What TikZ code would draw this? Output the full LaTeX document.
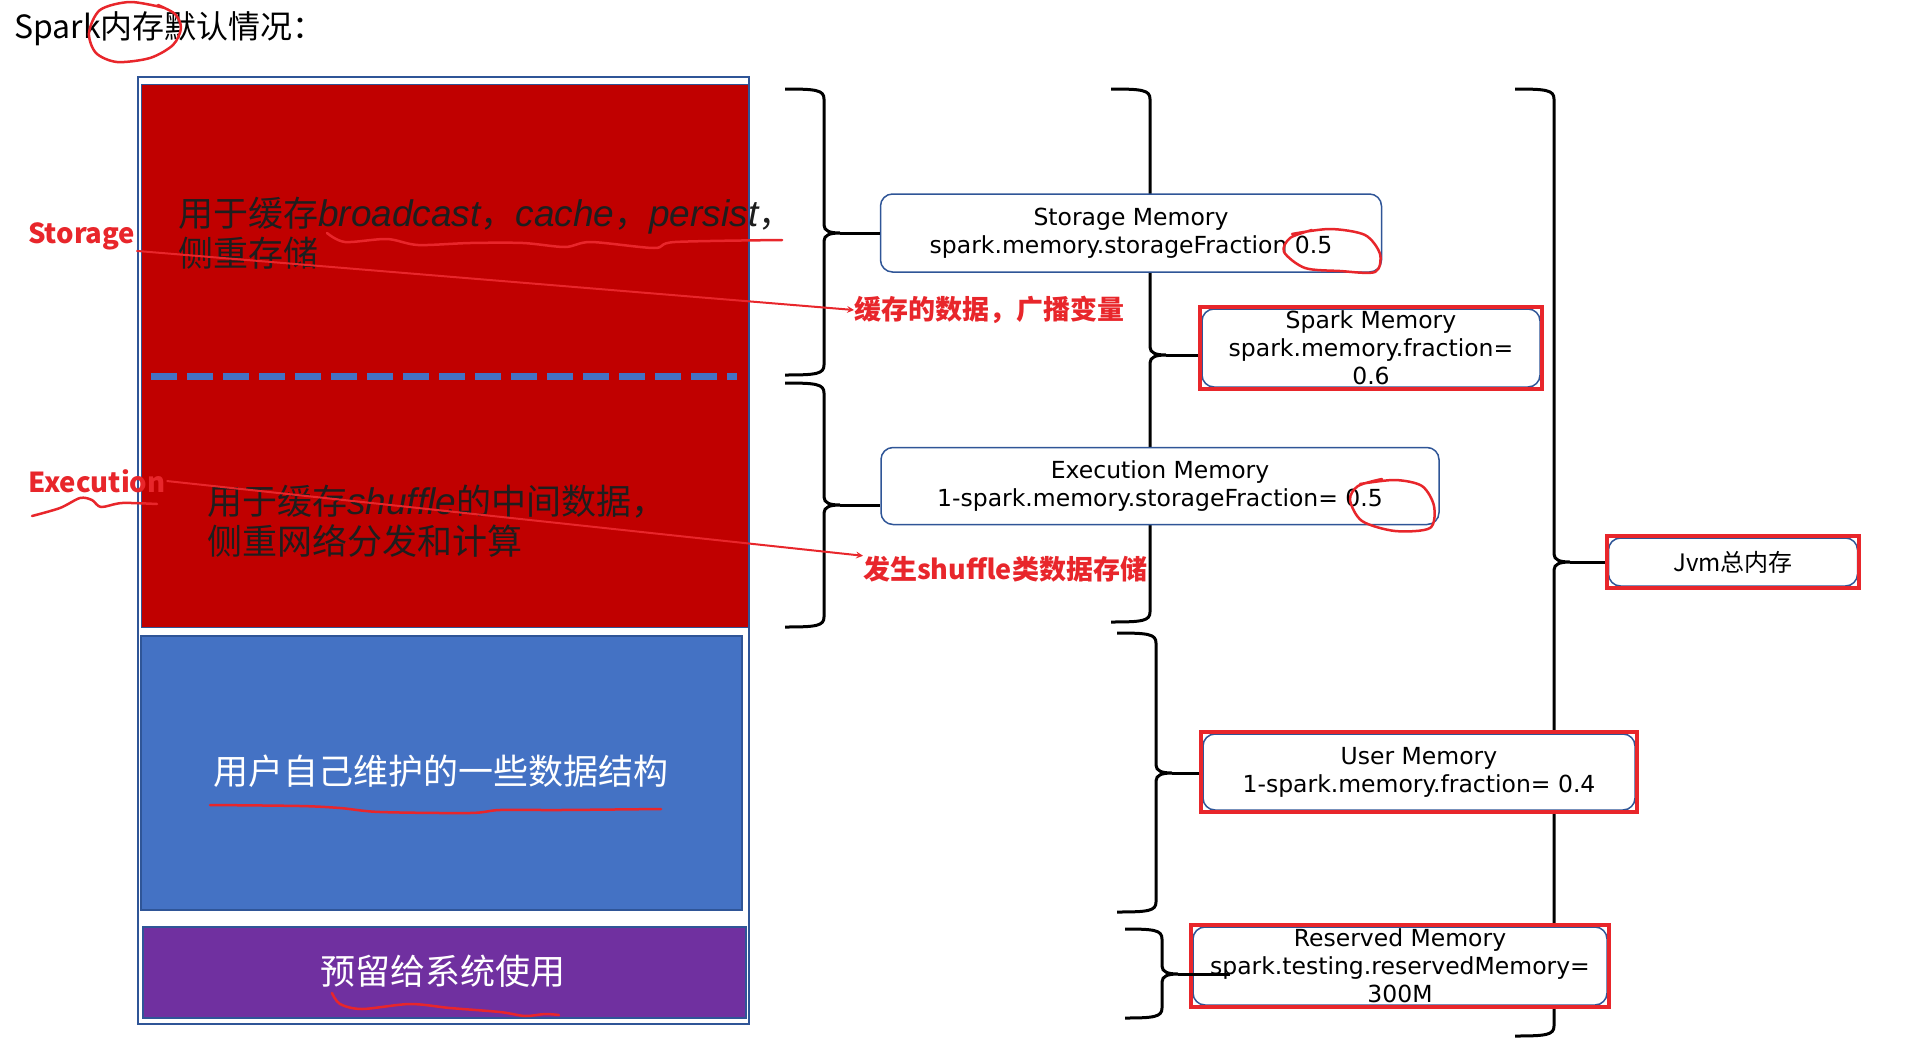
\documentclass[tikz,border=0pt]{standalone}
\usepackage{fontspec}
\setmainfont{Noto Sans CJK SC}
\newfontfamily\handfont{DejaVu Sans}
\newfontfamily\latinit{Liberation Sans}
\usetikzlibrary{fit}

\definecolor{sparkred}{HTML}{C00000}
\definecolor{userblue}{HTML}{4472C4}
\definecolor{edgeblue}{HTML}{2F5597}
\definecolor{sysviolet}{HTML}{7030A0}
\definecolor{inkred}{HTML}{E8262B}
\definecolor{darktext}{HTML}{1E1E1E}

% brace: tip name, end x, spine x, top y, tip y, bottom y
\newcommand{\membrace}[6]{%
  \draw[brace line] (#2,#4) .. controls (#3-8,#4) and (#3,#4+1) .. (#3,#4+10)
    -- (#3,#5-8) .. controls (#3,#5-2) and (#3+6,#5) .. (#3+16,#5) coordinate (#1)
    .. controls (#3+6,#5) and (#3,#5+2) .. (#3,#5+8)
    -- (#3,#6-10) .. controls (#3,#6-1) and (#3-8,#6) .. (#2,#6);}
\newcommand{\handit}[1]{{\latinit\itshape\fontsize{37}{40}\selectfont #1}}

\begin{document}
\begin{tikzpicture}[x=1pt,y=-1pt,
    brace line/.style={draw=black,line width=3},
    mem box/.style={draw=edgeblue,line width=1.5,rounded corners=12,fill=white,align=center,inner sep=0,font=\handfont\fontsize{23.5}{28}\selectfont},
    red frame/.style={draw=inkred,line width=4,inner sep=1},
    block text/.style={font=\fontsize{35}{40}\selectfont,inner sep=0},
    ink label/.style={text=inkred,font=\fontsize{27.5}{30}\selectfont\bfseries,inner sep=1},
    ink note/.style={text=inkred,font=\fontsize{27}{32}\selectfont\bfseries,inner sep=0},
    ink line/.style={draw=inkred,line width=2.5,line cap=round,line join=round},
    ink arrow/.style={draw=inkred,line width=2,->,>=stealth}]
\useasboundingbox (0,0) rectangle (1920,1039);

\node[anchor=west,inner sep=0,font=\fontsize{32}{38}\selectfont] (title) at (14,29) {Spark内存默认情况：};

% memory blocks
\draw[edgeblue,line width=2] (138,77) rectangle (749,1024);
\filldraw[fill=sparkred,draw=edgeblue,line width=1] (141,84) rectangle (748,627);
\draw[userblue,line width=7,dash pattern=on 26 off 10] (151,376) -- (737,376);
\filldraw[fill=userblue,draw=edgeblue,line width=2] (141,636) rectangle (742,910);
\filldraw[fill=sysviolet,draw=edgeblue,line width=2] (143,927) rectangle (746,1018);

\node[block text,anchor=west,align=left,text=darktext] (stortext) at (178,233)
  {用于缓存\handit{broadcast}，\handit{cache}，\handit{persist}，\\侧重存储};
\node[block text,anchor=west,align=left,text=darktext] (exectext) at (207,521)
  {用于缓存\handit{shuffle}的中间数据，\\侧重网络分发和计算};
\node[block text,text=white] (usertext) at (441,771) {用户自己维护的一些数据结构};
\node[block text,text=white] (systext) at (443,971) {预留给系统使用};

% braces
\membrace{b1}{785}{824}{89}{233}{375}
\membrace{b2}{785}{824}{383}{505}{627}
\membrace{b3}{1111}{1150}{89}{355}{622}
\membrace{b4}{1117}{1156}{633}{773}{912}
\membrace{b5}{1125}{1162}{929}{974}{1018}
\membrace{b6}{1515}{1554}{89}{562}{1036}

% memory boxes
\node[mem box,minimum width=501,minimum height=78] (stormem) at (1131,233)
  {Storage Memory\\spark.memory.storageFraction 0.5};
\node[mem box,minimum width=558,minimum height=77] (execmem) at (1160,486)
  {Execution Memory\\1-spark.memory.storageFraction= 0.5};
\node[mem box,minimum width=338,minimum height=78] (sparkmem) at (1371,348)
  {Spark Memory\\spark.memory.fraction=\\0.6};
\node[mem box,minimum width=432,minimum height=76] (usermem) at (1419,772)
  {User Memory\\1-spark.memory.fraction= 0.4};
\node[mem box,minimum width=414,minimum height=78] (resmem) at (1400,966)
  {Reserved Memory\\spark.testing.reservedMemory=\\300M};
\node[mem box,minimum width=249,minimum height=48,font=\fontsize{24}{28}\selectfont] (jvmmem) at (1733,562) {Jvm总内存};

\node[red frame,fit=(sparkmem)] (sparkframe) {};
\node[red frame,fit=(usermem)] (userframe) {};
\node[red frame,fit=(resmem)] (resframe) {};
\node[red frame,fit=(jvmmem)] (jvmframe) {};

\draw[brace line] (b1) -- (b1 -| stormem.west);
\draw[brace line] (b2) -- (b2 -| execmem.west);
\draw[brace line] (b3) -- (b3 -| sparkframe.west);
\draw[brace line] (b4) -- (b4 -| userframe.west);
\draw[brace line] (b5) -- ++(52,0);
\draw[brace line] (b6) -- (b6 -| jvmframe.west);

% red notes
\node[ink label,anchor=west] (storagelbl) at (27,236) {Storage};
\node[ink label,anchor=west] (execlbl) at (27,481) {Execution};
\node[ink note,anchor=west] (cachelbl) at (854,310) {缓存的数据，广播变量};
\node[ink note,anchor=west] (shufflelbl) at (863,569) {发生shuffle类数据存储};
\draw[ink arrow] (storagelbl.south east) -- (cachelbl.west);
\draw[ink arrow] (execlbl.east) -- (shufflelbl.north west);

% hand marks
\draw[ink line] plot[smooth] coordinates {(165,8) (130,2) (100,10) (89,33) (96,53) (117,62) (150,58) (173,45) (181,28) (175,14) (158,5)};
\draw[ink line] plot[smooth] coordinates {(327,233) (345,242) (387,239) (418,245) (470,243) (523,243) (565,247) (591,242) (654,248) (675,242) (782,240)};
\draw[ink line] plot[smooth] coordinates {(32,516) (60,508) (80,498) (92,500) (101,507) (122,503) (157,504)};
\draw[ink line] plot[smooth] coordinates {(210,805) (300,806) (340,808) (380,812) (470,813) (500,810) (560,810) (661,809)};
\draw[ink line] plot[smooth] coordinates {(332,993) (340,1004) (362,1009) (410,1004) (450,1008) (500,1012) (525,1016) (545,1014) (559,1015)};
\draw[ink line] plot[smooth] coordinates {(1292,234) (1330,229) (1365,235) (1380,254) (1375,272) (1340,271) (1305,268) (1284,252) (1290,238) (1312,230)};
\draw[ink line] plot[smooth] coordinates {(1360,484) (1395,480) (1422,486) (1434,506) (1430,528) (1395,531) (1362,521) (1350,500) (1358,486) (1382,479)};
\end{tikzpicture}
\end{document}
